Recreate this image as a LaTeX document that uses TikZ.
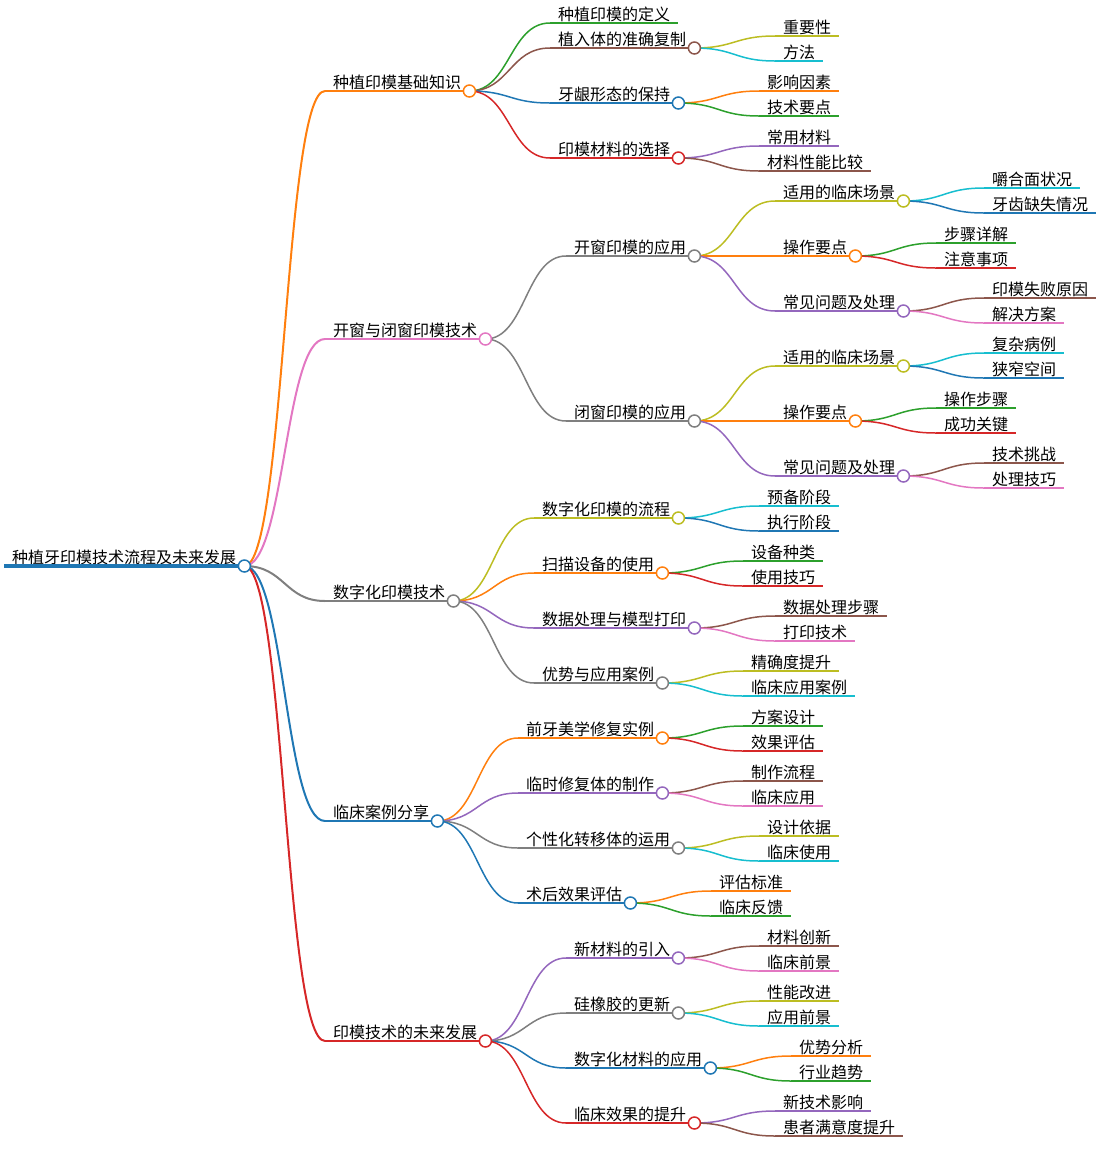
\documentclass[tikz,border=0pt]{standalone}
\usepackage{fontspec}
\setmainfont{Noto Sans CJK SC}
\usepackage{tikz}
\definecolor{cblue}{HTML}{1F77B4}
\definecolor{corange}{HTML}{FF7F0E}
\definecolor{cgreen}{HTML}{2CA02C}
\definecolor{cred}{HTML}{D62728}
\definecolor{cpurple}{HTML}{9467BD}
\definecolor{cbrown}{HTML}{8C564B}
\definecolor{cpink}{HTML}{E377C2}
\definecolor{cgray}{HTML}{7F7F7F}
\definecolor{colive}{HTML}{BCBD22}
\definecolor{ccyan}{HTML}{17BECF}
\tikzset{
  ul/.style 2 args={anchor=south west,inner xsep=8pt,inner ysep=2.5pt,text depth=0pt,
    font=\fontsize{16}{18}\selectfont,
    append after command={(\tikzlastnode.south west) edge[draw=#1,line width=#2] (\tikzlastnode.south east)}},
  topic/.style={ul={#1}{1.5pt}},
  maintopic/.style={ul={#1}{2pt}},
  roottopic/.style={ul={#1}{4pt}},
  link/.style={line width=1.5pt,to path={.. controls +(40.5,0) and +(-40.5,0) .. (\tikztotarget)}},
  mainlink/.style={link,line width=2pt},
  dot/.style={circle,fill=white,line width=1.5pt,minimum size=12pt,inner sep=0pt}
}

\begin{document}
\begin{tikzpicture}[x=1pt,y=-1pt]
\useasboundingbox (0,0) rectangle (1103,1171);
% root and main branches
\node[roottopic=cblue] (r) at (4,566) {种植牙印模技术流程及未来发展};
\node[maintopic=corange] (a) at (325,91) {种植印模基础知识};
\node[maintopic=cpink] (b) at (325,339) {开窗与闭窗印模技术};
\node[maintopic=cgray] (c) at (325,601) {数字化印模技术};
\node[maintopic=cblue] (d) at (325,821) {临床案例分享};
\node[maintopic=cred] (e) at (325,1041) {印模技术的未来发展};
\draw[mainlink,corange] (r.south east) to (a.south west);
\draw[mainlink,cpink] (r.south east) to (b.south west);
\draw[mainlink,cgray] (r.south east) to (c.south west);
\draw[mainlink,cblue] (r.south east) to (d.south west);
\draw[mainlink,cred] (r.south east) to (e.south west);

% basics
\node[topic=cgreen] (a1) at (550,23) {种植印模的定义};
\node[topic=cbrown] (a2) at (550,48) {植入体的准确复制};
\node[topic=cblue] (a3) at (550,103) {牙龈形态的保持};
\node[topic=cred] (a4) at (550,158) {印模材料的选择};
\node[topic=colive] (a21) at (775,36) {重要性};
\node[topic=ccyan] (a22) at (775,61) {方法};
\node[topic=corange] (a31) at (759,91) {影响因素};
\node[topic=cgreen] (a32) at (759,116) {技术要点};
\node[topic=cpurple] (a41) at (759,146) {常用材料};
\node[topic=cbrown] (a42) at (759,171) {材料性能比较};
\draw[link,cgreen] (a.south east) to (a1.south west);
\draw[link,cbrown] (a.south east) to (a2.south west);
\draw[link,cblue] (a.south east) to (a3.south west);
\draw[link,cred] (a.south east) to (a4.south west);
\draw[link,colive] (a2.south east) to (a21.south west);
\draw[link,ccyan] (a2.south east) to (a22.south west);
\draw[link,corange] (a3.south east) to (a31.south west);
\draw[link,cgreen] (a3.south east) to (a32.south west);
\draw[link,cpurple] (a4.south east) to (a41.south west);
\draw[link,cbrown] (a4.south east) to (a42.south west);

% open and closed tray
\node[topic=cgray] (b1) at (566,256) {开窗印模的应用};
\node[topic=cgray] (b2) at (566,421) {闭窗印模的应用};
\node[topic=colive] (b11) at (775,201) {适用的临床场景};
\node[topic=corange] (b12) at (775,256) {操作要点};
\node[topic=cpurple] (b13) at (775,311) {常见问题及处理};
\node[topic=ccyan] (b111) at (984,188) {嚼合面状况};
\node[topic=cblue] (b112) at (984,213) {牙齿缺失情况};
\node[topic=cgreen] (b121) at (936,243) {步骤详解};
\node[topic=cred] (b122) at (936,268) {注意事项};
\node[topic=cbrown] (b131) at (984,298) {印模失败原因};
\node[topic=cpink] (b132) at (984,323) {解决方案};
\node[topic=colive] (b21) at (775,366) {适用的临床场景};
\node[topic=corange] (b22) at (775,421) {操作要点};
\node[topic=cpurple] (b23) at (775,476) {常见问题及处理};
\node[topic=ccyan] (b211) at (984,353) {复杂病例};
\node[topic=cblue] (b212) at (984,378) {狭窄空间};
\node[topic=cgreen] (b221) at (936,408) {操作步骤};
\node[topic=cred] (b222) at (936,433) {成功关键};
\node[topic=cbrown] (b231) at (984,463) {技术挑战};
\node[topic=cpink] (b232) at (984,488) {处理技巧};
\draw[link,cgray] (b.south east) to (b1.south west);
\draw[link,cgray] (b.south east) to (b2.south west);
\draw[link,colive] (b1.south east) to (b11.south west);
\draw[link,corange] (b1.south east) to (b12.south west);
\draw[link,cpurple] (b1.south east) to (b13.south west);
\draw[link,ccyan] (b11.south east) to (b111.south west);
\draw[link,cblue] (b11.south east) to (b112.south west);
\draw[link,cgreen] (b12.south east) to (b121.south west);
\draw[link,cred] (b12.south east) to (b122.south west);
\draw[link,cbrown] (b13.south east) to (b131.south west);
\draw[link,cpink] (b13.south east) to (b132.south west);
\draw[link,colive] (b2.south east) to (b21.south west);
\draw[link,corange] (b2.south east) to (b22.south west);
\draw[link,cpurple] (b2.south east) to (b23.south west);
\draw[link,ccyan] (b21.south east) to (b211.south west);
\draw[link,cblue] (b21.south east) to (b212.south west);
\draw[link,cgreen] (b22.south east) to (b221.south west);
\draw[link,cred] (b22.south east) to (b222.south west);
\draw[link,cbrown] (b23.south east) to (b231.south west);
\draw[link,cpink] (b23.south east) to (b232.south west);

% digital
\node[topic=colive] (c1) at (534,518) {数字化印模的流程};
\node[topic=corange] (c2) at (534,573) {扫描设备的使用};
\node[topic=cpurple] (c3) at (534,628) {数据处理与模型打印};
\node[topic=cgray] (c4) at (534,683) {优势与应用案例};
\node[topic=ccyan] (c11) at (759,506) {预备阶段};
\node[topic=cblue] (c12) at (759,531) {执行阶段};
\node[topic=cgreen] (c21) at (743,561) {设备种类};
\node[topic=cred] (c22) at (743,586) {使用技巧};
\node[topic=cbrown] (c31) at (775,616) {数据处理步骤};
\node[topic=cpink] (c32) at (775,641) {打印技术};
\node[topic=colive] (c41) at (743,671) {精确度提升};
\node[topic=ccyan] (c42) at (743,696) {临床应用案例};
\draw[link,colive] (c.south east) to (c1.south west);
\draw[link,corange] (c.south east) to (c2.south west);
\draw[link,cpurple] (c.south east) to (c3.south west);
\draw[link,cgray] (c.south east) to (c4.south west);
\draw[link,ccyan] (c1.south east) to (c11.south west);
\draw[link,cblue] (c1.south east) to (c12.south west);
\draw[link,cgreen] (c2.south east) to (c21.south west);
\draw[link,cred] (c2.south east) to (c22.south west);
\draw[link,cbrown] (c3.south east) to (c31.south west);
\draw[link,cpink] (c3.south east) to (c32.south west);
\draw[link,colive] (c4.south east) to (c41.south west);
\draw[link,ccyan] (c4.south east) to (c42.south west);

% cases
\node[topic=corange] (d1) at (518,738) {前牙美学修复实例};
\node[topic=cpurple] (d2) at (518,793) {临时修复体的制作};
\node[topic=cgray] (d3) at (518,848) {个性化转移体的运用};
\node[topic=cblue] (d4) at (518,903) {术后效果评估};
\node[topic=cgreen] (d11) at (743,726) {方案设计};
\node[topic=cred] (d12) at (743,751) {效果评估};
\node[topic=cbrown] (d21) at (743,781) {制作流程};
\node[topic=cpink] (d22) at (743,806) {临床应用};
\node[topic=colive] (d31) at (759,836) {设计依据};
\node[topic=ccyan] (d32) at (759,861) {临床使用};
\node[topic=corange] (d41) at (711,891) {评估标准};
\node[topic=cgreen] (d42) at (711,916) {临床反馈};
\draw[link,corange] (d.south east) to (d1.south west);
\draw[link,cpurple] (d.south east) to (d2.south west);
\draw[link,cgray] (d.south east) to (d3.south west);
\draw[link,cblue] (d.south east) to (d4.south west);
\draw[link,cgreen] (d1.south east) to (d11.south west);
\draw[link,cred] (d1.south east) to (d12.south west);
\draw[link,cbrown] (d2.south east) to (d21.south west);
\draw[link,cpink] (d2.south east) to (d22.south west);
\draw[link,colive] (d3.south east) to (d31.south west);
\draw[link,ccyan] (d3.south east) to (d32.south west);
\draw[link,corange] (d4.south east) to (d41.south west);
\draw[link,cgreen] (d4.south east) to (d42.south west);

% future
\node[topic=cpurple] (e1) at (566,958) {新材料的引入};
\node[topic=cgray] (e2) at (566,1013) {硅橡胶的更新};
\node[topic=cblue] (e3) at (566,1068) {数字化材料的应用};
\node[topic=cred] (e4) at (566,1123) {临床效果的提升};
\node[topic=cbrown] (e11) at (759,946) {材料创新};
\node[topic=cpink] (e12) at (759,971) {临床前景};
\node[topic=colive] (e21) at (759,1001) {性能改进};
\node[topic=ccyan] (e22) at (759,1026) {应用前景};
\node[topic=corange] (e31) at (791,1056) {优势分析};
\node[topic=cgreen] (e32) at (791,1081) {行业趋势};
\node[topic=cpurple] (e41) at (775,1111) {新技术影响};
\node[topic=cbrown] (e42) at (775,1136) {患者满意度提升};
\draw[link,cpurple] (e.south east) to (e1.south west);
\draw[link,cgray] (e.south east) to (e2.south west);
\draw[link,cblue] (e.south east) to (e3.south west);
\draw[link,cred] (e.south east) to (e4.south west);
\draw[link,cbrown] (e1.south east) to (e11.south west);
\draw[link,cpink] (e1.south east) to (e12.south west);
\draw[link,colive] (e2.south east) to (e21.south west);
\draw[link,ccyan] (e2.south east) to (e22.south west);
\draw[link,corange] (e3.south east) to (e31.south west);
\draw[link,cgreen] (e3.south east) to (e32.south west);
\draw[link,cpurple] (e4.south east) to (e41.south west);
\draw[link,cbrown] (e4.south east) to (e42.south west);

% folding dots
\node[dot,draw=cblue] (ro) at (r.south east) {};
\node[dot,draw=corange] (ao) at (a.south east) {};
\node[dot,draw=cpink] (bo) at (b.south east) {};
\node[dot,draw=cgray] (co) at (c.south east) {};
\node[dot,draw=cblue] (do) at (d.south east) {};
\node[dot,draw=cred] (eo) at (e.south east) {};
\node[dot,draw=cbrown] (a2o) at (a2.south east) {};
\node[dot,draw=cblue] (a3o) at (a3.south east) {};
\node[dot,draw=cred] (a4o) at (a4.south east) {};
\node[dot,draw=cgray] (b1o) at (b1.south east) {};
\node[dot,draw=cgray] (b2o) at (b2.south east) {};
\node[dot,draw=colive] (b11o) at (b11.south east) {};
\node[dot,draw=corange] (b12o) at (b12.south east) {};
\node[dot,draw=cpurple] (b13o) at (b13.south east) {};
\node[dot,draw=colive] (b21o) at (b21.south east) {};
\node[dot,draw=corange] (b22o) at (b22.south east) {};
\node[dot,draw=cpurple] (b23o) at (b23.south east) {};
\node[dot,draw=colive] (c1o) at (c1.south east) {};
\node[dot,draw=corange] (c2o) at (c2.south east) {};
\node[dot,draw=cpurple] (c3o) at (c3.south east) {};
\node[dot,draw=cgray] (c4o) at (c4.south east) {};
\node[dot,draw=corange] (d1o) at (d1.south east) {};
\node[dot,draw=cpurple] (d2o) at (d2.south east) {};
\node[dot,draw=cgray] (d3o) at (d3.south east) {};
\node[dot,draw=cblue] (d4o) at (d4.south east) {};
\node[dot,draw=cpurple] (e1o) at (e1.south east) {};
\node[dot,draw=cgray] (e2o) at (e2.south east) {};
\node[dot,draw=cblue] (e3o) at (e3.south east) {};
\node[dot,draw=cred] (e4o) at (e4.south east) {};
\end{tikzpicture}
\end{document}
